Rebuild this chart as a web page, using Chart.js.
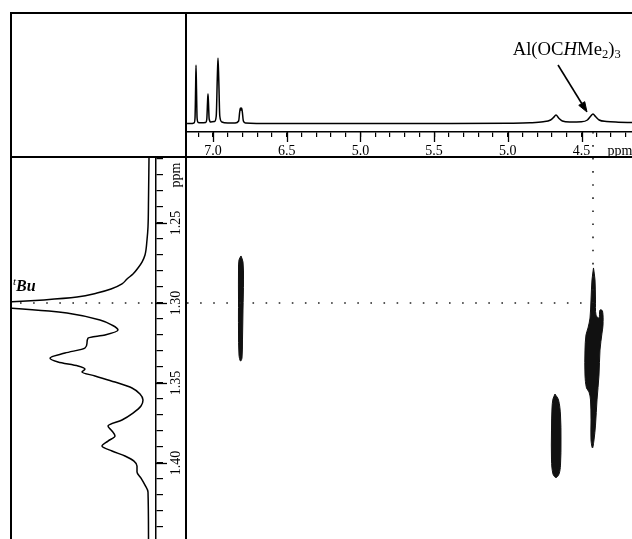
<!DOCTYPE html>
<html>
<head>
<meta charset="utf-8">
<script src="https://cdn.jsdelivr.net/npm/chart.js@4.4.1/dist/chart.umd.min.js"></script>
<style>
  html, body { margin: 0; padding: 0; background: #fff; overflow: hidden; width: 632px; height: 539px; }
  canvas { position: absolute; }
  .rule { position: absolute; background: #000; z-index: 2; }
</style>
</head>
<body>
<div class="rule" style="left:10px;top:12px;width:640px;height:2px"></div>
<div class="rule" style="left:10px;top:12px;width:2px;height:540px"></div>
<div class="rule" style="left:10px;top:156px;width:640px;height:2px"></div>
<div class="rule" style="left:185px;top:12px;width:2px;height:540px"></div>
<canvas id="topSpec" width="445" height="142" style="left:187px;top:14px"></canvas>
<canvas id="leftSpec" width="173" height="381" style="left:12px;top:158px"></canvas>
<canvas id="map2d" width="445" height="381" style="left:187px;top:158px"></canvas>
<script>
// F2 (horizontal) 1D spectrum: ppm / intensity
const topPpm = [7.176, 7.14, 7.128, 7.122, 7.118, 7.1153, 7.112, 7.108, 7.10, 7.08, 7.05, 7.042, 7.037, 7.034, 7.031, 7.026, 7.015, 6.99, 6.978, 6.971, 6.9661, 6.961, 6.954, 6.94, 6.90, 6.85, 6.826, 6.819, 6.814, 6.81, 6.806, 6.801, 6.794, 6.78, 6.6, 6.2, 5.8, 5.4, 5.0, 4.85, 4.76, 4.71, 4.69, 4.673, 4.655, 4.63, 4.58, 4.50, 4.46, 4.437, 4.422, 4.405, 4.38, 4.33, 4.25, 4.157];
const topIntensity = [0.5, 0.6, 1.2, 6, 35, 59, 35, 6, 1.5, 1.2, 1.5, 5, 22, 30, 22, 5, 2, 2.5, 8, 45, 66, 45, 8, 2, 1, 1, 3, 12, 16, 14, 16, 12, 3, 1, 0.5, 0.5, 0.5, 0.5, 0.8, 1.2, 2.2, 4, 6.5, 9, 6, 3, 2, 2.2, 4, 8, 10, 7.5, 4, 2.5, 1.8, 1.5];

// F1 (vertical) 1D spectrum: ppm / intensity
const leftPpm = [1.2094, 1.2356, 1.2525, 1.2606, 1.27, 1.2744, 1.2781, 1.2819, 1.285, 1.2881, 1.2913, 1.2938, 1.2963, 1.2981, 1.2994, 1.3013, 1.3031, 1.305, 1.3063, 1.3106, 1.3138, 1.3169, 1.32, 1.3219, 1.325, 1.3281, 1.3313, 1.3344, 1.3369, 1.3394, 1.3413, 1.3431, 1.3456, 1.3494, 1.3531, 1.3569, 1.3606, 1.3644, 1.3688, 1.3731, 1.3769, 1.38, 1.3831, 1.3863, 1.3894, 1.3925, 1.3956, 1.3988, 1.4019, 1.4056, 1.4094, 1.4138, 1.4181, 1.4475];
const leftIntensity = [0, 0.5, 1, 2, 4, 7, 11, 16, 22, 27, 38, 52, 72, 105, 140, 190, 140, 100, 82, 49, 37, 31, 44, 61, 62, 64, 84, 99, 91, 71, 64, 67, 54, 34, 17, 9, 6, 8, 16, 27, 41, 37, 34, 41, 47, 37, 24, 15, 12, 12, 8, 4, 1, 0.5];

// 2D cross peaks, outlines in (F2 ppm, F1 ppm)
const peakArylX = [6.8100, 6.7965, 6.7931, 6.7965, 6.7999, 6.8033, 6.8134, 6.8236, 6.8270, 6.8270, 6.8270, 6.8236, 6.8100];
const peakArylY = [1.2706, 1.2744, 1.2856, 1.3044, 1.3231, 1.3344, 1.3363, 1.3325, 1.3169, 1.2981, 1.2794, 1.2731, 1.2706];
const peakLowX = [4.6798, 4.6560, 4.6425, 4.6391, 4.6425, 4.6526, 4.6730, 4.6934, 4.7035, 4.7035, 4.7001, 4.6934, 4.6798];
const peakLowY = [1.3569, 1.3606, 1.3700, 1.3856, 1.4013, 1.4069, 1.4091, 1.4069, 1.3981, 1.3794, 1.3656, 1.3600, 1.3569];
const peakAlX = [4.4186, 4.4084, 4.4050, 4.4016, 4.3813, 4.3745, 4.3575, 4.3541, 4.3609, 4.3745, 4.3813, 4.3948, 4.4050, 4.4152, 4.4254, 4.4355, 4.4355, 4.4389, 4.4491, 4.4661, 4.4763, 4.4763, 4.4695, 4.4559, 4.4423, 4.4355, 4.4288, 4.4186];
const peakAlY = [1.2781, 1.2856, 1.2981, 1.3075, 1.3094, 1.3044, 1.3050, 1.3138, 1.3188, 1.3294, 1.3450, 1.3606, 1.3763, 1.3856, 1.3906, 1.3856, 1.3731, 1.3606, 1.3556, 1.3531, 1.3450, 1.3294, 1.3200, 1.3156, 1.3094, 1.2981, 1.2856, 1.2781];

// axes
const f2Range = [4.1574, 7.1764];
const f1Range = [1.209375, 1.4475];
const topMajorValues = [7.0, 6.5, 6.0, 5.5, 5.0, 4.5];
const topMajorLabels = ['7.0', '6.5', '5.0', '5.5', '5.0', '4.5'];  // as printed
const topUnitAt = 4.24;
const leftMajorValues = [1.25, 1.30, 1.35, 1.40];
const leftMajorLabels = ['1.25', '1.30', '1.35', '1.40'];
const leftUnitAt = 1.22;

// cross-reference lines (tBu / Al(OCHMe2)3)
const refF1 = 1.30;
const refF2 = 4.422;

// arrow to the Al(OCHMe2)3 peak
const arrowX = [4.6594, 4.4983];
const arrowY = [59, 20.5];
const arrowHeadX = [4.4627, 4.5186, 4.4781, 4.4627];
const arrowHeadY = [12, 18.66, 22.34, 12];

const serif = '"Liberation Serif", "DejaVu Serif", serif';
Chart.defaults.font.family = serif;
Chart.defaults.color = '#000';

const pts = (xs, ys) => xs.map((x, i) => ({x: x, y: ys[i]}));
const near = (a, b) => Math.abs(a - b) < 1e-6;

function tickList(from, to, step, extra) {
    const out = [];
    for (let v = from; v <= to + 1e-9; v += step) {
        const r = Math.round(v * 100) / 100;
        if (!near(r, extra)) out.push(r);
    }
    out.push(extra);
    return out.sort((a, b) => a - b).map(v => ({value: v}));
}

// longer tick marks for the labelled values
function majorTicks(scaleId, values, length) {
    return {
        id: 'majorTicks',
        afterDraw(chart) {
            const scale = chart.scales[scaleId];
            const ctx = chart.ctx;
            ctx.save();
            ctx.strokeStyle = '#000';
            ctx.lineWidth = 1.3;
            values.forEach(v => {
                const p = Math.round(scale.getPixelForValue(v)) + 0.5;
                ctx.beginPath();
                if (scale.isHorizontal()) {
                    ctx.moveTo(p, scale.top);
                    ctx.lineTo(p, scale.top + length);
                } else {
                    ctx.moveTo(scale.left, p);
                    ctx.lineTo(scale.left + length, p);
                }
                ctx.stroke();
            });
            ctx.restore();
        }
    };
}

// rich text labels placed in data coordinates
function textMarks(items) {
    return {
        id: 'textMarks',
        afterDatasetsDraw(chart) {
            const ctx = chart.ctx;
            ctx.save();
            ctx.fillStyle = '#000';
            ctx.textAlign = 'left';
            ctx.textBaseline = 'alphabetic';
            items.forEach(item => {
                let x = chart.scales.x.getPixelForValue(item.x);
                const y = chart.scales.y.getPixelForValue(item.y);
                item.parts.forEach(p => {
                    ctx.font = p.font;
                    ctx.fillText(p.text, x, y + (p.dy || 0));
                    x += ctx.measureText(p.text).width;
                });
            });
            ctx.restore();
        }
    };
}

const spectrumLine = {borderColor: '#000', borderWidth: 1.5, pointRadius: 0, fill: false, cubicInterpolationMode: 'monotone'};
const dotted = {borderColor: '#222', borderWidth: 1.6, borderDash: [1.6, 11.5], pointRadius: 0, fill: false};
const contour = {borderColor: '#111', backgroundColor: '#111', borderWidth: 1, pointRadius: 0, fill: 'shape', tension: 0.35};
const noPlugins = {legend: {display: false}, tooltip: {enabled: false}};

// top: F2 projection
new Chart(document.getElementById('topSpec'), {
    type: 'line',
    data: {
        datasets: [
            Object.assign({data: pts(topPpm, topIntensity)}, spectrumLine),
            Object.assign({data: pts([refF2, refF2], [-8, -34]), clip: false}, dotted),
            {data: pts(arrowX, arrowY), borderColor: '#000', borderWidth: 1.6, pointRadius: 0, fill: false},
            {data: pts(arrowHeadX, arrowHeadY), borderColor: '#000', backgroundColor: '#000', borderWidth: 1, pointRadius: 0, fill: 'shape'}
        ]
    },
    options: {
        responsive: false,
        animation: false,
        layout: {padding: 0},
        plugins: noPlugins,
        scales: {
            x: {
                type: 'linear', reverse: true, min: f2Range[0], max: f2Range[1],
                afterBuildTicks: s => { s.ticks = tickList(4.2, 7.1, 0.1, topUnitAt); },
                afterFit: s => { s.height = 24; s.paddingLeft = 0; s.paddingRight = 0; },
                grid: {
                    drawOnChartArea: false, tickLength: 5, lineWidth: 1.2, color: '#000',
                    tickColor: c => (c.tick && near(c.tick.value, topUnitAt)) ? 'rgba(0,0,0,0)' : '#000'
                },
                border: {display: true, color: '#000', width: 1.5},
                ticks: {
                    autoSkip: false, minRotation: 0, maxRotation: 0, padding: 6,
                    font: {size: 14}, color: '#000',
                    callback: v => {
                        if (near(v, topUnitAt)) return 'ppm';
                        const i = topMajorValues.findIndex(m => near(m, v));
                        return i >= 0 ? topMajorLabels[i] : '';
                    }
                }
            },
            y: {type: 'linear', display: false, min: -8, max: 110}
        }
    },
    plugins: [
        majorTicks('x', topMajorValues, 10),
        textMarks([{x: 4.967, y: 69, parts: [
            {text: 'Al(OC', font: '18.7px ' + serif},
            {text: 'H', font: 'italic 18.7px ' + serif},
            {text: 'Me', font: '18.7px ' + serif},
            {text: '2', font: '12.5px ' + serif, dy: 3},
            {text: ')', font: '18.7px ' + serif},
            {text: '3', font: '12.5px ' + serif, dy: 3}
        ]}])
    ]
});

// left: F1 projection
new Chart(document.getElementById('leftSpec'), {
    type: 'line',
    data: {
        datasets: [
            Object.assign({data: pts(leftIntensity, leftPpm)}, spectrumLine),
            Object.assign({data: pts([129, -7], [refF1, refF1])}, dotted)
        ]
    },
    options: {
        indexAxis: 'y',
        responsive: false,
        animation: false,
        layout: {padding: 0},
        plugins: noPlugins,
        scales: {
            x: {type: 'linear', display: false, reverse: true, min: -7, max: 137},
            y: {
                type: 'linear', position: 'right', reverse: true, min: f1Range[0], max: f1Range[1],
                afterBuildTicks: s => { s.ticks = tickList(1.21, 1.44, 0.01, leftUnitAt); },
                afterFit: s => { s.width = 29; s.paddingTop = 0; s.paddingBottom = 0; },
                grid: {drawOnChartArea: false, tickLength: 7, lineWidth: 1.2, color: '#000'},
                border: {display: true, color: '#000', width: 1.5},
                ticks: {
                    autoSkip: false, minRotation: 90, maxRotation: 90, crossAlign: 'center', padding: 1,
                    font: {size: 14}, color: '#000',
                    callback: v => {
                        if (near(v, leftUnitAt)) return 'ppm';
                        const i = leftMajorValues.findIndex(m => near(m, v));
                        return i >= 0 ? leftMajorLabels[i] : '';
                    }
                }
            }
        }
    },
    plugins: [
        majorTicks('y', leftMajorValues, 11),
        textMarks([{x: 136, y: 1.2925, parts: [
            {text: 't', font: 'italic 11px ' + serif, dy: -6},
            {text: 'Bu', font: 'bold italic 16px ' + serif}
        ]}])
    ]
});

// 2D correlation map
new Chart(document.getElementById('map2d'), {
    type: 'line',
    data: {
        datasets: [
            Object.assign({data: pts([f2Range[1], refF2], [refF1, refF1])}, dotted),
            Object.assign({data: pts([refF2, refF2], [f1Range[0], refF1])}, dotted),
            Object.assign({data: pts(peakArylX, peakArylY)}, contour),
            Object.assign({data: pts(peakLowX, peakLowY)}, contour),
            Object.assign({data: pts(peakAlX, peakAlY)}, contour)
        ]
    },
    options: {
        responsive: false,
        animation: false,
        layout: {padding: 0},
        plugins: noPlugins,
        scales: {
            x: {type: 'linear', display: false, reverse: true, min: f2Range[0], max: f2Range[1]},
            y: {type: 'linear', display: false, reverse: true, min: f1Range[0], max: f1Range[1]}
        }
    }
});
</script>
</body>
</html>
